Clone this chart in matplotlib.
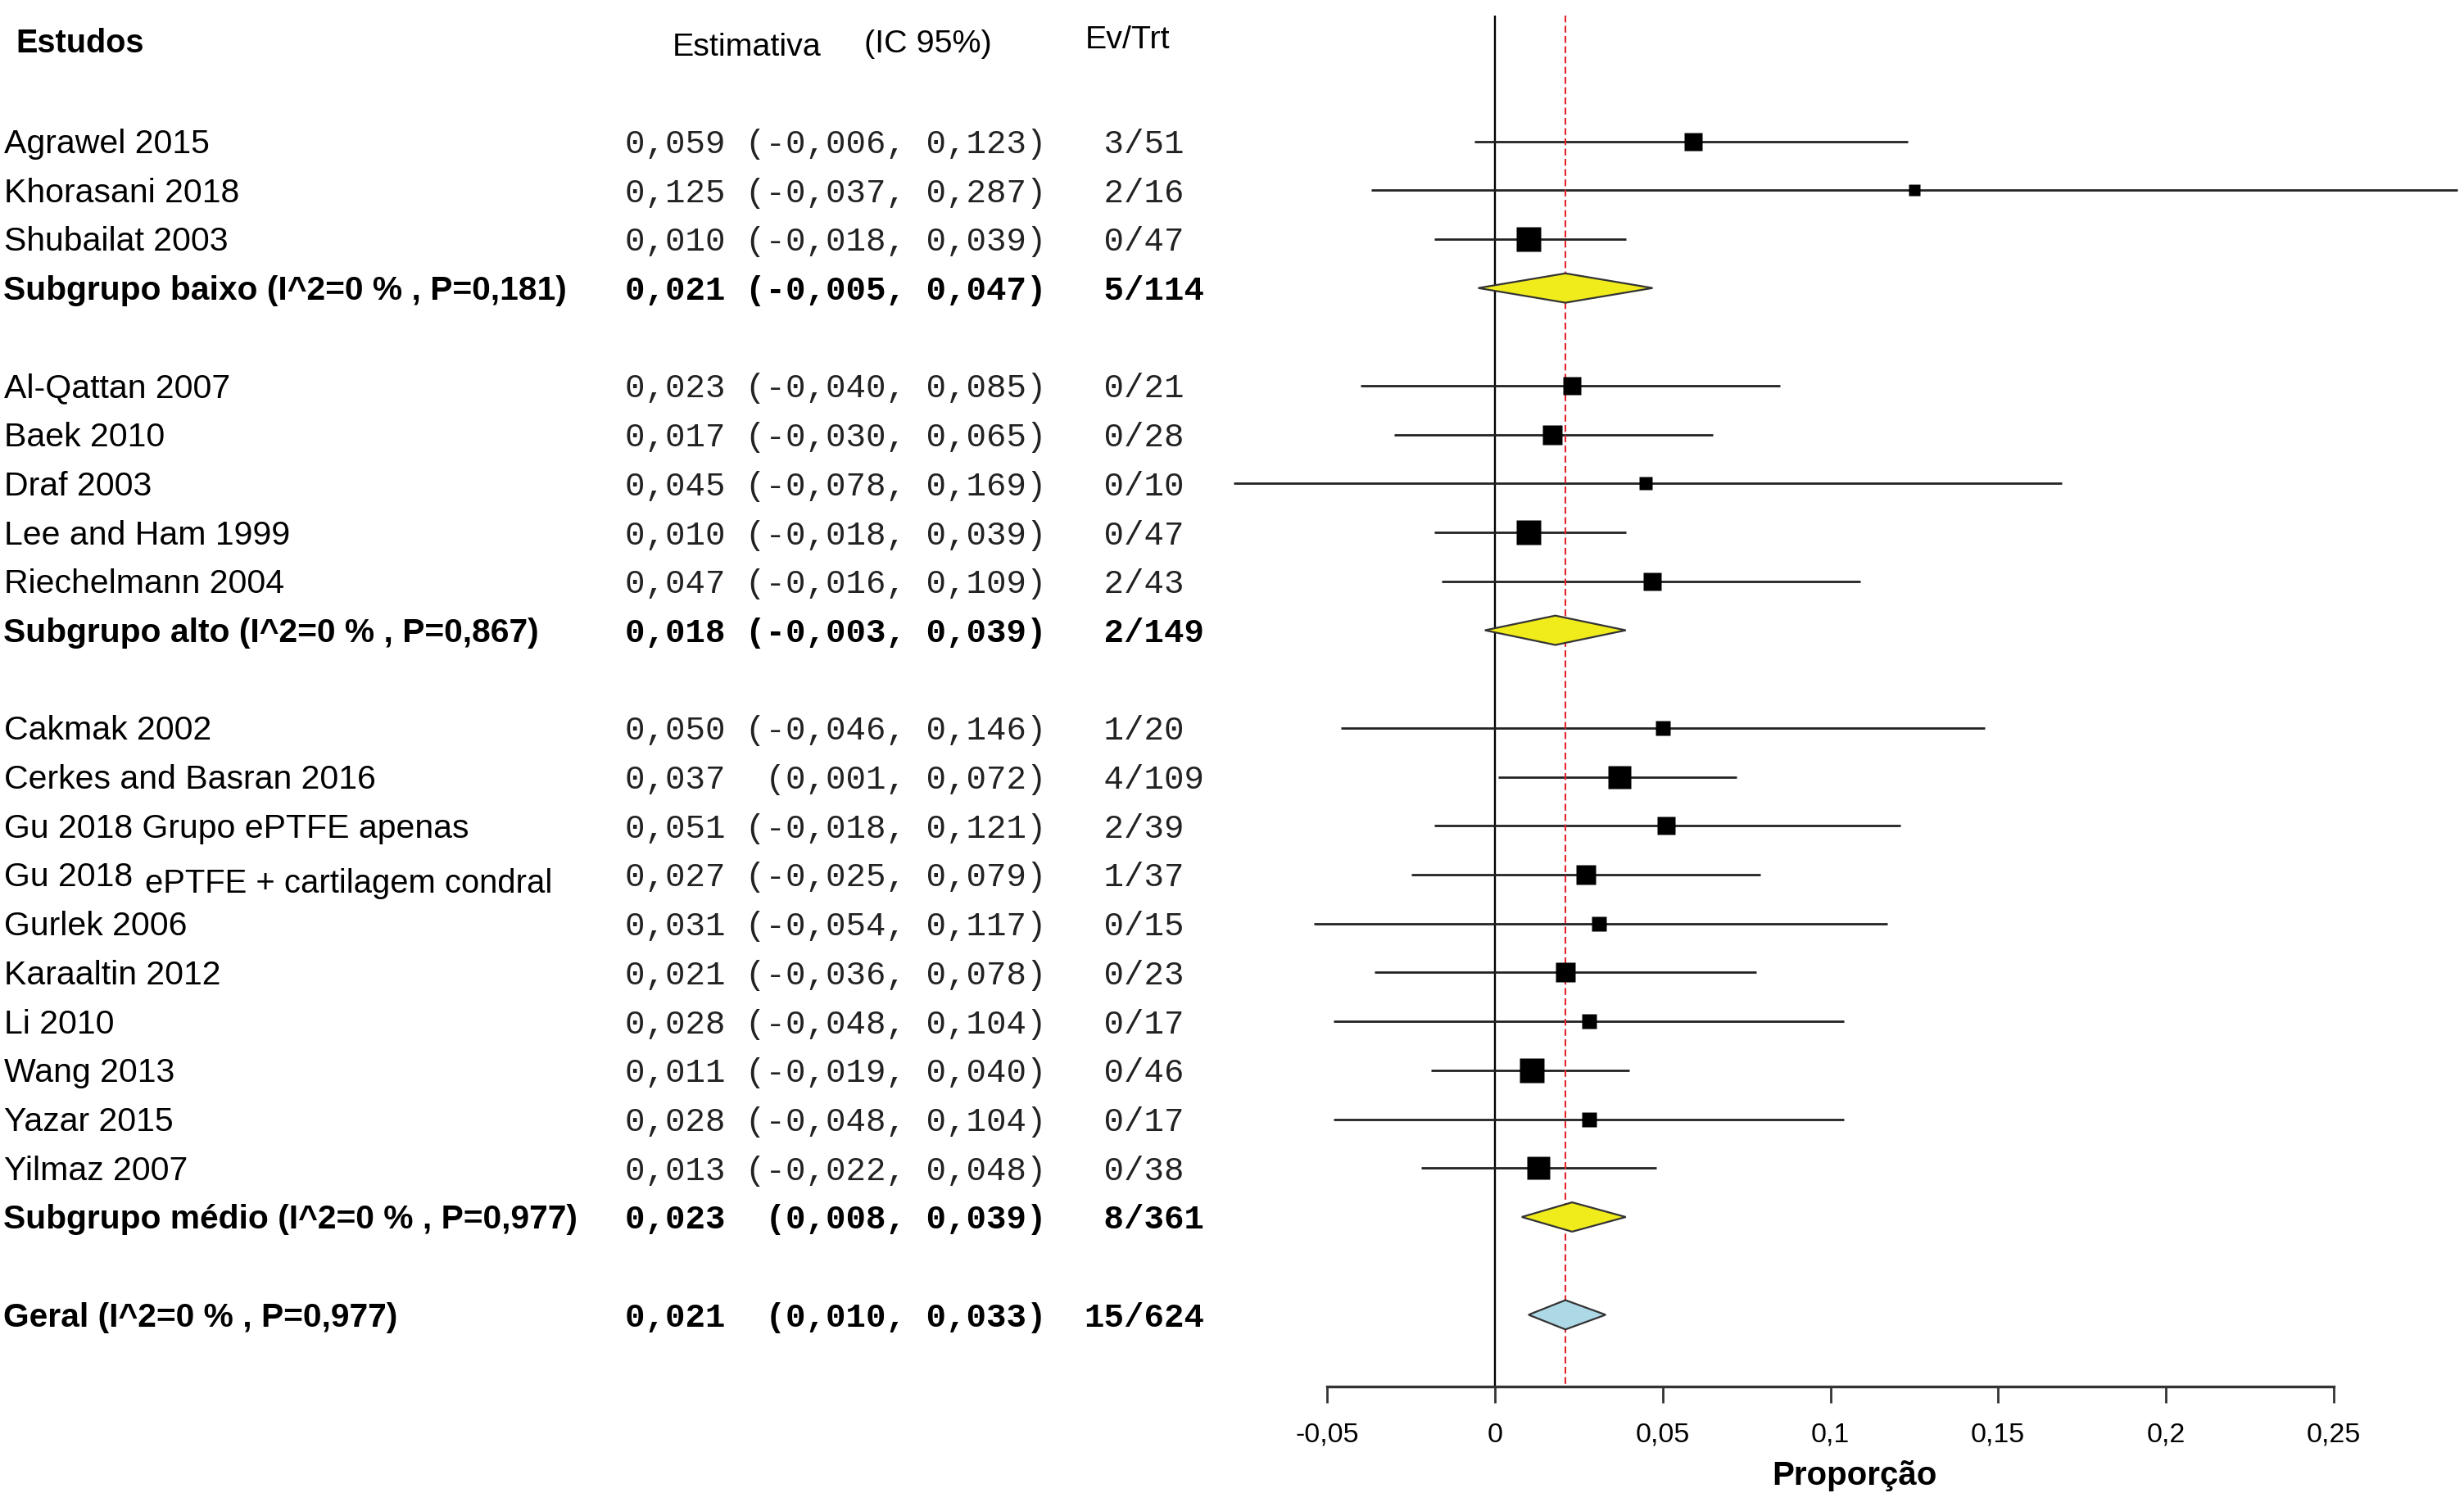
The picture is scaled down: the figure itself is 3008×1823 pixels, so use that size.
import matplotlib
matplotlib.use("Agg")
import matplotlib.pyplot as plt
import numpy as np

# ---------------------------------------------------------
# Dados lidos do forest plot
# ---------------------------------------------------------
estudos = [
    "Agrawel 2015", "Khorasani 2018", "Shubailat 2003",
    "Al-Qattan 2007", "Baek 2010", "Draf 2003", "Lee and Ham 1999", "Riechelmann 2004",
    "Cakmak 2002", "Cerkes and Basran 2016", "Gu 2018 Grupo ePTFE apenas",
    "Gu 2018 ePTFE + cartilagem condral", "Gurlek 2006", "Karaaltin 2012", "Li 2010",
    "Wang 2013", "Yazar 2015", "Yilmaz 2007",
]
grupo = ["baixo"] * 3 + ["alto"] * 5 + ["médio"] * 10
estimativa = [0.059, 0.125, 0.010,
              0.023, 0.017, 0.045, 0.010, 0.047,
              0.050, 0.037, 0.051, 0.027, 0.031, 0.021, 0.028, 0.011, 0.028, 0.013]
ic_inf = [-0.006, -0.037, -0.018,
          -0.040, -0.030, -0.078, -0.018, -0.016,
          -0.046, 0.001, -0.018, -0.025, -0.054, -0.036, -0.048, -0.019, -0.048, -0.022]
ic_sup = [0.123, 0.287, 0.039,
          0.085, 0.065, 0.169, 0.039, 0.109,
          0.146, 0.072, 0.121, 0.079, 0.117, 0.078, 0.104, 0.040, 0.104, 0.048]
eventos = [3, 2, 0, 0, 0, 0, 0, 2, 1, 4, 2, 1, 0, 0, 0, 0, 0, 0]
totais = [51, 16, 47, 21, 28, 10, 47, 43, 20, 109, 39, 37, 15, 23, 17, 46, 17, 38]
pesos = [4.8, 1.9, 9.5, 5.2, 5.7, 2.5, 9.5, 4.8,
         3.2, 8.3, 4.8, 5.7, 3.6, 5.7, 3.6, 9.5, 3.6, 7.8]   # peso (%)

subgrupos = ["baixo", "alto", "médio"]
sub_est = [0.021, 0.018, 0.023]
sub_inf = [-0.005, -0.003, 0.008]
sub_sup = [0.047, 0.039, 0.039]
sub_ev = [5, 2, 8]
sub_n = [114, 149, 361]
sub_i2 = [0, 0, 0]
sub_p = ["0,181", "0,867", "0,977"]

geral_est, geral_inf, geral_sup = 0.021, 0.010, 0.033
geral_ev, geral_n, geral_i2, geral_p = 15, 624, 0, "0,977"

ticks = [-0.05, 0, 0.05, 0.1, 0.15, 0.2, 0.25]


def fmt(v):
    return f"{v:.3f}".replace(".", ",")


def ic_texto(e, a, b):
    return fmt(e) + " " + f"({fmt(a)},".rjust(8) + " " + fmt(b) + ")"


def evtrt(ev, n):
    return f"{ev:>2d}/{n:<3d}"


# ---------------------------------------------------------
# Layout das linhas
# ---------------------------------------------------------
y_est = [0] * len(estudos)
y_sub = []
y = 0
for g in subgrupos:
    for i, gg in enumerate(grupo):
        if gg == g:
            y_est[i] = y
            y += 1
    y_sub.append(y)
    y += 2
y_geral = y

y_top = -2.57
y_eixo = 25.47
base = 0.24          # deslocamento da linha de base do texto
meia_altura = 0.30   # meia altura dos losangos

SANS = "Liberation Sans"
MONO = "Liberation Mono"

fig = plt.figure(figsize=(30.08, 18.23), dpi=100)
ax = fig.add_axes([0, 0, 1, 1])
ax.set_xlim(-0.4457, 0.2889)
ax.set_ylim(27.645, -2.891)
tr = ax.get_yaxis_transform()

x_nome = 5 / 3008
x_ic = 763 / 3008
x_ev = 1323 / 3008

# linhas verticais
ax.vlines(0, y_top, y_eixo, color="black", lw=1.7, zorder=1)
ax.vlines(geral_est, y_top, y_eixo, color="#e3242b", lw=1.5,
          linestyles=(0, (4, 2)), zorder=3)

# estudos individuais
for i, nome in enumerate(estudos):
    yi = y_est[i]
    ax.hlines(yi, ic_inf[i], ic_sup[i], color="#222222", lw=2.0, zorder=2)
    lado = 10 * np.sqrt(pesos[i]) * 72 / 100
    ax.plot(estimativa[i], yi, "s", ms=lado, color="black", mec="none", zorder=4)

    if nome.startswith("Gu 2018 ePTFE"):
        ax.text(x_nome, yi + base, "Gu 2018", transform=tr, fontsize=29.5,
                family=SANS, va="baseline", ha="left")
        ax.text(177 / 3008, yi + base + 0.13, nome[len("Gu 2018 "):], transform=tr,
                fontsize=28.8, family=SANS, va="baseline", ha="left")
    else:
        ax.text(x_nome, yi + base, nome, transform=tr, fontsize=29.5,
                family=SANS, va="baseline", ha="left")
    ax.text(x_ic, yi + base, ic_texto(estimativa[i], ic_inf[i], ic_sup[i]),
            transform=tr, fontsize=29.3, family=MONO, va="baseline", ha="left",
            color="#222222")
    ax.text(x_ev, yi + base, evtrt(eventos[i], totais[i]), transform=tr,
            fontsize=29.3, family=MONO, va="baseline", ha="left", color="#222222")


def losango(e, a, b, yy, cor):
    ax.fill([a, e, b, e], [yy, yy - meia_altura, yy, yy + meia_altura],
            facecolor=cor, edgecolor="#333333", lw=1.6, zorder=5)


def linha_resumo(yy, rotulo, e, a, b, ev, n, cor):
    losango(e, a, b, yy, cor)
    ax.text(0.0013, yy + base, rotulo, transform=tr, fontsize=29.3,
            family=SANS, weight="bold", va="baseline", ha="left")
    ax.text(x_ic, yy + base, ic_texto(e, a, b), transform=tr, fontsize=29.3,
            family=MONO, weight="bold", va="baseline", ha="left")
    ax.text(x_ev, yy + base, evtrt(ev, n), transform=tr, fontsize=29.3,
            family=MONO, weight="bold", va="baseline", ha="left")


for k, g in enumerate(subgrupos):
    linha_resumo(y_sub[k], f"Subgrupo {g} (I^2={sub_i2[k]} % , P={sub_p[k]})",
                 sub_est[k], sub_inf[k], sub_sup[k], sub_ev[k], sub_n[k], "#f0ec1c")

linha_resumo(y_geral, f"Geral (I^2={geral_i2} % , P={geral_p})",
             geral_est, geral_inf, geral_sup, geral_ev, geral_n, "#add8e6")

# cabeçalho
ax.text(19 / 3008, -1.82, "Estudos", transform=tr, fontsize=28.5, family=SANS,
        weight="bold", va="baseline", ha="left")
ax.text(821 / 3008, -1.76, "Estimativa", transform=tr, fontsize=28.4, family=SANS,
        va="baseline", ha="left")
ax.text(1055 / 3008, -1.82, "(IC 95%)", transform=tr, fontsize=28.4, family=SANS,
        va="baseline", ha="left")
ax.text(1325 / 3008, -1.90, "Ev/Trt", transform=tr, fontsize=28.4, family=SANS,
        va="baseline", ha="left")

# eixo x
for s in ["top", "left", "right"]:
    ax.spines[s].set_visible(False)
ax.spines["bottom"].set_position(("data", y_eixo))
ax.spines["bottom"].set_bounds(ticks[0], ticks[-1])
ax.spines["bottom"].set_linewidth(2.4)
ax.spines["bottom"].set_color("#333333")
ax.set_xticks(ticks)
ax.set_xticklabels([f"{t:g}".replace(".", ",") for t in ticks],
                   fontsize=24.5, family=SANS)
ax.tick_params(axis="x", direction="out", length=14.4, width=2,
               color="#333333", pad=17)
ax.set_yticks([])

ax.text(2264 / 3008, 27.48, "Proporção", transform=tr, fontsize=29,
        family=SANS, weight="bold", va="baseline", ha="center")

fig.savefig("out.png", dpi=100, facecolor="white")
